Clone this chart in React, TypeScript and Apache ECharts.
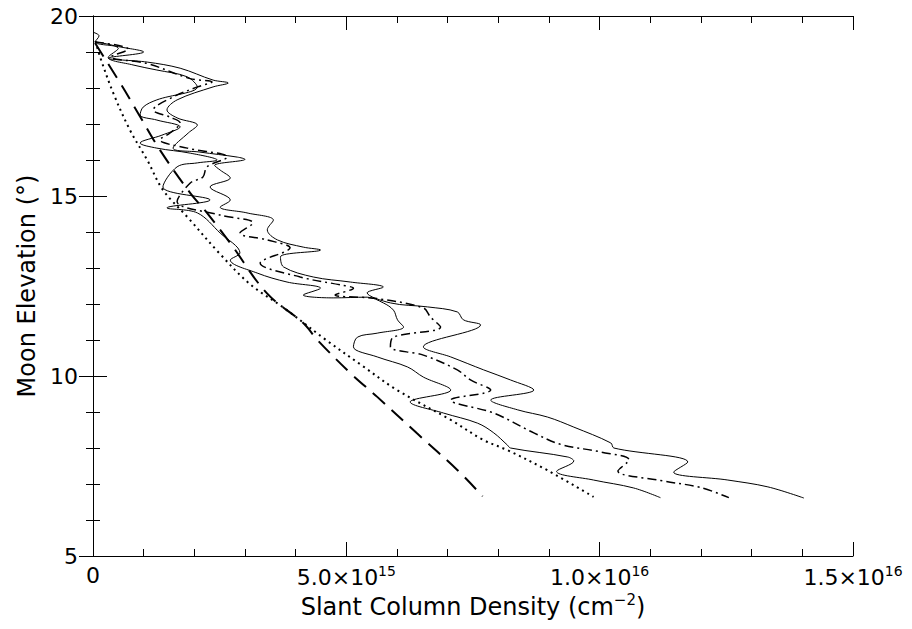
import React, { useEffect, useRef } from "react";
import * as echarts from "echarts";

// x in units of 1e15 cm^-2, y = moon elevation (deg)
const upperSolid: number[][] = [
  [0.0, 19.55], [0.12, 19.45], [0.04, 19.28], [0.5, 19.15], [1.0, 19.0], [0.3, 18.83],
  [1.07, 18.72], [1.72, 18.55], [2.37, 18.22], [2.67, 18.14], [2.37, 18.03],
  [1.66, 17.67], [1.46, 17.39], [1.66, 17.17], [2.06, 16.97], [1.88, 16.75],
  [1.58, 16.33], [2.11, 16.22], [2.85, 16.08], [3.0, 16.02], [2.4, 15.85],
  [2.51, 15.72], [2.71, 15.5], [2.31, 15.25], [2.71, 14.89], [2.51, 14.69],
  [3.04, 14.53], [3.56, 14.33], [3.44, 14.06], [3.64, 13.78], [4.15, 13.58],
  [4.49, 13.5], [3.7, 13.31], [3.76, 13.03], [4.35, 12.75], [5.08, 12.61],
  [5.73, 12.47], [5.41, 12.31], [5.87, 12.03], [6.6, 11.92], [7.19, 11.78],
  [7.31, 11.56], [7.65, 11.42], [6.52, 10.81], [7.06, 10.53], [7.71, 10.17],
  [8.24, 9.89], [8.7, 9.61], [7.85, 9.33], [8.38, 9.06], [8.97, 8.86],
  [9.49, 8.58], [10.22, 8.14], [10.28, 8.0], [11.74, 7.61], [11.46, 7.33],
  [12.53, 7.11], [13.32, 6.92], [14.03, 6.61],
];

const dashDot: number[][] = [
  [0.04, 19.28], [0.7, 19.08], [0.35, 18.86], [1.07, 18.68], [1.92, 18.26],
  [2.35, 18.17], [2.06, 18.03], [1.58, 17.75], [1.19, 17.39], [1.52, 17.19],
  [1.72, 17.03], [1.52, 16.75], [1.32, 16.56], [1.86, 16.33], [2.65, 16.08],
  [2.25, 15.81], [2.17, 15.53], [1.92, 15.36], [1.66, 14.85], [2.51, 14.47],
  [3.16, 14.25], [2.9, 13.97], [3.44, 13.78], [3.89, 13.56], [3.3, 13.14],
  [4.09, 12.75], [4.88, 12.53], [5.14, 12.44], [4.78, 12.25], [5.61, 12.15],
  [6.52, 11.89], [6.66, 11.64], [6.86, 11.36], [5.93, 11.08], [5.87, 10.81],
  [6.52, 10.58], [7.19, 10.17], [7.45, 9.89], [7.85, 9.61], [7.06, 9.33],
  [7.91, 8.97], [8.7, 8.42], [9.23, 8.1], [10.02, 7.89], [10.58, 7.67],
  [10.36, 7.36], [11.2, 7.1], [12.0, 6.9], [12.55, 6.62],
];

const lowerSolid: number[][] = [
  [0.04, 19.28], [0.5, 19.1], [0.3, 18.85], [0.79, 18.64], [1.26, 18.5],
  [1.86, 18.31], [2.06, 18.03], [1.26, 17.67], [0.99, 17.47], [0.93, 17.25],
  [1.26, 17.11], [1.72, 16.92], [1.36, 16.69], [0.93, 16.47], [1.26, 16.33],
  [1.92, 16.19], [2.45, 16.0], [2.06, 15.92], [1.66, 15.81], [1.38, 15.25],
  [2.31, 14.89], [1.46, 14.67], [2.06, 14.53], [2.51, 13.97], [2.9, 13.42],
  [2.71, 13.22], [3.24, 12.86], [3.83, 12.61], [4.49, 12.44], [4.15, 12.25],
  [4.74, 12.17], [5.41, 12.19], [5.73, 12.03], [5.93, 11.83], [6.01, 11.56],
  [6.13, 11.36], [5.61, 11.19], [5.22, 11.08], [5.14, 10.81], [5.61, 10.53],
  [6.21, 10.25], [6.52, 9.97], [7.06, 9.61], [6.26, 9.28], [6.92, 8.97],
  [7.59, 8.69], [7.91, 8.42], [8.18, 8.08], [8.24, 8.0], [9.37, 7.75],
  [9.49, 7.64], [9.15, 7.35], [9.88, 7.11], [10.67, 6.89], [11.2, 6.62],
];

const dotted: number[][] = [
  [0.05, 19.3], [0.14, 18.86], [0.4, 17.86], [0.73, 16.83], [1.07, 16.0],
  [1.38, 15.17], [1.86, 14.42], [2.5, 13.4], [3.1, 12.55], [3.76, 11.9],
  [4.6, 11.0], [5.3, 10.3], [6.0, 9.61], [7.06, 8.78], [7.71, 8.22],
  [8.18, 7.94], [8.97, 7.38], [9.88, 6.64],
];

const dashed: number[][] = [
  [0.04, 19.25], [0.57, 18.06], [0.89, 17.3], [1.32, 16.28], [1.92, 15.08],
  [2.25, 14.53], [2.71, 13.69], [3.43, 12.3], [4.15, 11.47], [4.43, 11.0],
  [5.08, 10.08], [5.61, 9.42], [6.4, 8.4], [7.19, 7.39], [7.69, 6.66],
];

const xTickValues = [0, 5, 10, 15];
const xTickBase = ["0", "5.0×10", "1.0×10", "1.5×10"];
const xTickExp = ["", "15", "16", "16"];
const yTickValues = [5, 10, 15, 20];

const FONT = "DejaVu Sans";
const FS = 22;
const TS = 24;

export default function App() {
  const ref = useRef<HTMLDivElement>(null);
  useEffect(() => {
    if (!ref.current) return;
    const chart = echarts.init(ref.current, null, { renderer: "svg" });
    const axisCommon = {
      type: "value" as const,
      axisLine: { show: true, lineStyle: { color: "#000", width: 1 } },
      axisTick: { show: true, inside: true, length: 14, lineStyle: { color: "#000", width: 1 } },
      minorTick: { show: true, splitNumber: 5, length: 7, lineStyle: { color: "#000", width: 1 } },
      splitLine: { show: false },
    };
    const tickRich = {
      b: { fontFamily: FONT, fontSize: FS, color: "#000" },
      s: { fontFamily: FONT, fontSize: 14, color: "#000", verticalAlign: "bottom", padding: [0, 0, 12, 0] },
    };
    const titleRich = {
      b: { fontFamily: FONT, fontSize: TS, color: "#000" },
      s: { fontFamily: FONT, fontSize: 15, color: "#000", verticalAlign: "bottom", padding: [0, 0, 13, 0] },
    };
    const mk = (data: number[][], lineStyle: any) => ({
      type: "line",
      data,
      showSymbol: false,
      symbol: "none",
      smooth: 0.35,
      lineStyle: { color: "#000", ...lineStyle },
      xAxisIndex: 0,
      yAxisIndex: 0,
      silent: true,
    });
    chart.setOption({
      animation: false,
      backgroundColor: "#fff",
      grid: { left: 93, right: 59, top: 16, bottom: 73, containLabel: false },
      xAxis: [
        {
          ...axisCommon,
          position: "bottom",
          min: 0,
          max: 15,
          interval: 5,
          axisLabel: {
            margin: 8,
            formatter: (v: number) => {
              const i = xTickValues.indexOf(v);
              if (i < 0) return "";
              return xTickExp[i] ? `{b|${xTickBase[i]}}{s|${xTickExp[i]}}` : `{b|${xTickBase[i]}}`;
            },
            rich: tickRich,
          },
          name: "{b|Slant Column Density (cm}{s|−2}{b|)}",
          nameLocation: "middle",
          nameGap: 35,
          nameTextStyle: { rich: titleRich },
        },
        {
          ...axisCommon,
          position: "top",
          min: 0,
          max: 15,
          interval: 5,
          axisLabel: { show: false },
        },
      ],
      yAxis: [
        {
          ...axisCommon,
          position: "left",
          min: 5,
          max: 20,
          interval: 5,
          axisLabel: {
            margin: 15,
            fontFamily: FONT,
            fontSize: FS,
            color: "#000",
            formatter: (v: number) => (yTickValues.includes(v) ? String(v) : ""),
          },
          name: "Moon Elevation (°)",
          nameLocation: "middle",
          nameRotate: 90,
          nameGap: 52,
          nameTextStyle: { fontFamily: FONT, fontSize: TS, color: "#000" },
        },
        {
          ...axisCommon,
          position: "right",
          min: 5,
          max: 20,
          interval: 5,
          axisLabel: { show: false },
        },
      ],
      series: [
        mk(upperSolid, { width: 1, type: "solid" }),
        mk(dashDot, { width: 1.5, type: [9, 4, 2, 4] }),
        mk(lowerSolid, { width: 1, type: "solid" }),
        mk(dotted, { width: 2, type: [2, 4] }),
        mk(dashed, { width: 2, type: [16, 9] }),
      ],
    });
    return () => chart.dispose();
  }, []);
  return <div ref={ref} style={{ position: "absolute", left: 0, top: 0, width: 912, height: 629 }} />;
}
